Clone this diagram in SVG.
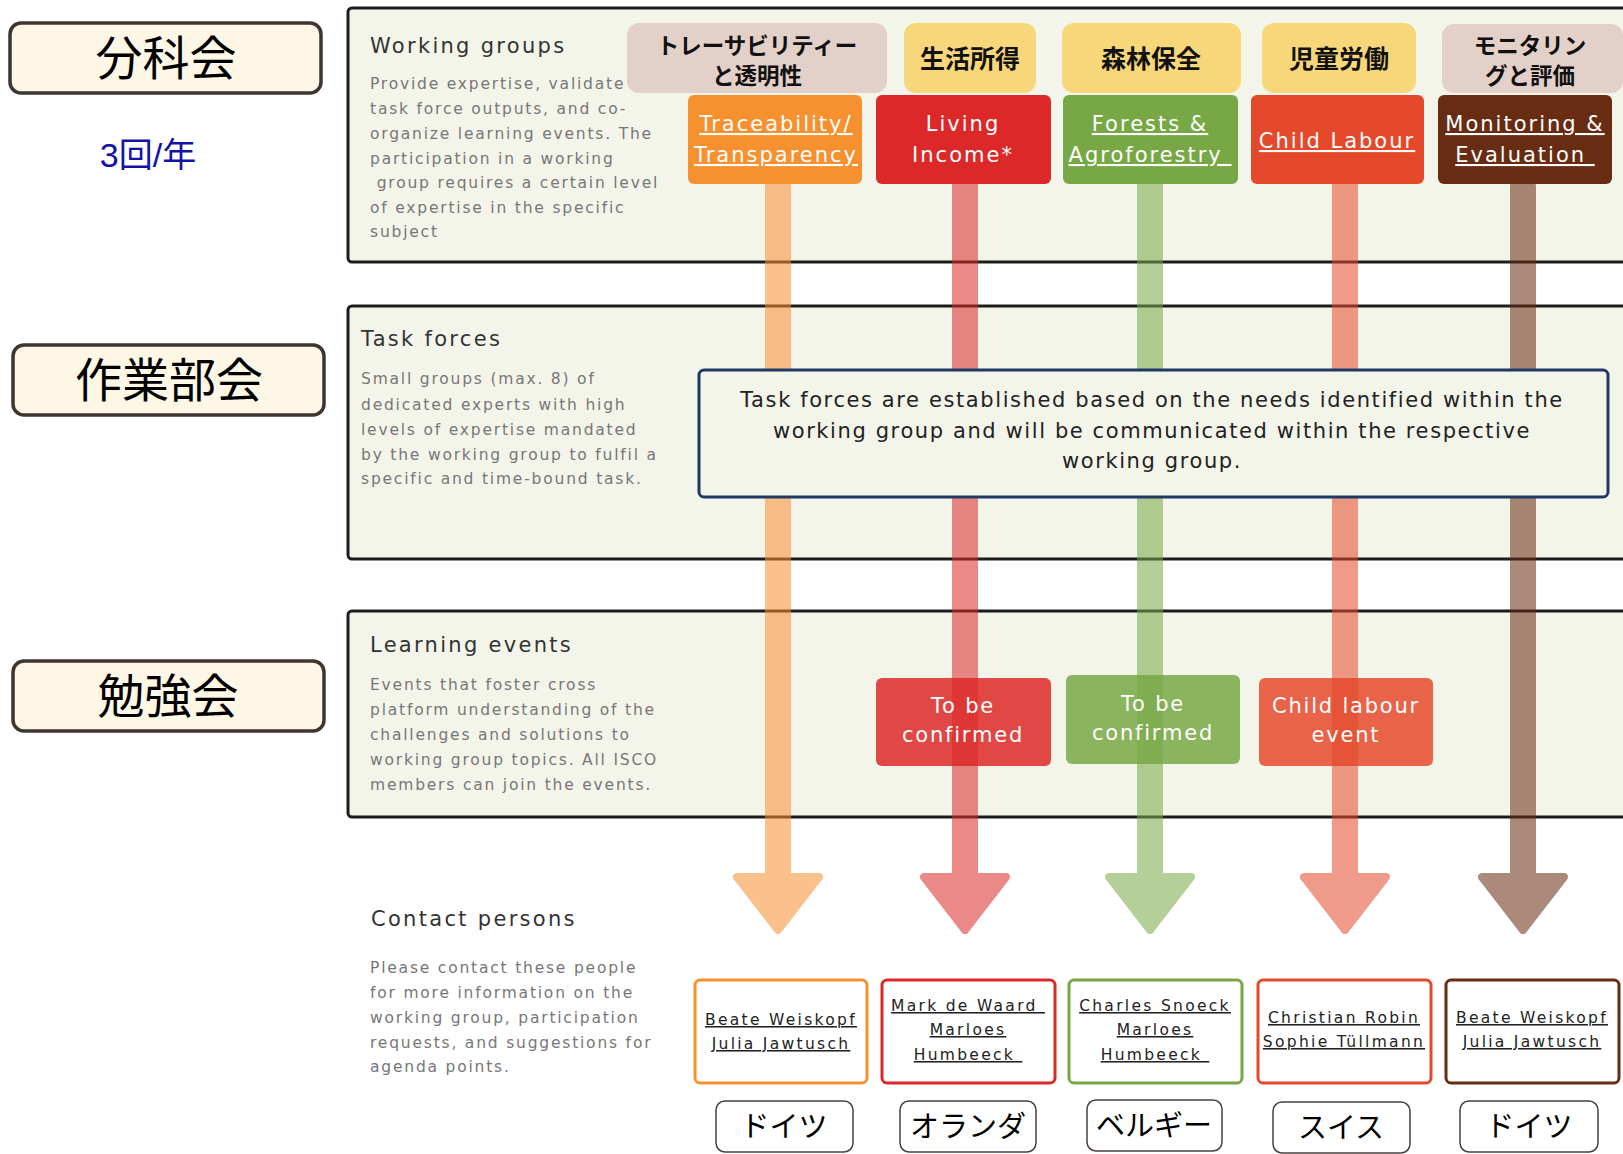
<svg xmlns="http://www.w3.org/2000/svg" width="1623" height="1154" viewBox="0 0 1623 1154">
<style>
.lbl{fill:#FFF7E5;stroke:#3F3530;stroke-width:3.5}
.lbltx{font-family:"Noto Sans CJK JP",sans-serif;font-size:47px;fill:#000;text-anchor:middle}
.panel{fill:#F4F5EA;stroke:#1c1c1c;stroke-width:3}
.ttl{font-family:"DejaVu Sans",sans-serif;font-size:21px;fill:#333;letter-spacing:2.3px}
.desc{font-family:"DejaVu Sans",sans-serif;font-size:15.5px;fill:#777;letter-spacing:1.8px}
.cat{font-family:"Noto Sans CJK JP",sans-serif;font-weight:bold;fill:#111;text-anchor:middle}
.topic{font-family:"DejaVu Sans",sans-serif;font-size:21px;fill:#fff;text-anchor:middle;letter-spacing:2px}
.u{text-decoration:underline}
.note{font-family:"DejaVu Sans",sans-serif;font-size:21px;fill:#222;text-anchor:middle;letter-spacing:1.6px}
.ev{font-family:"DejaVu Sans",sans-serif;font-size:21px;fill:#fff;text-anchor:middle;letter-spacing:1.8px}
.cbox{fill:#fff;stroke-width:3}
.name{font-family:"DejaVu Sans",sans-serif;font-size:15.5px;fill:#222;text-anchor:middle;letter-spacing:2.3px;text-decoration:underline}
.ctry{fill:#fff;stroke:#4a4040;stroke-width:1.5}
.ctrytx{font-family:"Noto Sans CJK JP",sans-serif;font-size:29px;fill:#000;text-anchor:middle}
.arrow{stroke-width:8;stroke-linejoin:round;opacity:0.55}
</style>

<!-- left labels -->
<g id="label-bunkakai">
<rect class="lbl" x="10" y="23" width="311" height="70" rx="11"/>
<text class="lbltx" x="166" y="75">分科会</text>
</g>
<g id="label-freq">
<text x="148" y="167" font-family="Liberation Sans, Noto Sans CJK JP, sans-serif" font-size="34" fill="#1212A8" text-anchor="middle">3回/年</text>
</g>
<g id="label-sagyobukai">
<rect class="lbl" x="13" y="345" width="311" height="70" rx="11"/>
<text class="lbltx" x="169" y="397">作業部会</text>
</g>
<g id="label-benkyokai">
<rect class="lbl" x="13" y="661" width="311" height="70" rx="11"/>
<text class="lbltx" x="168" y="713">勉強会</text>
</g>

<!-- panels -->
<g id="panel-working-groups">
<rect class="panel" x="348" y="8" width="1300" height="254" rx="4"/>
<text class="ttl" x="370" y="53">Working groups</text>
<text class="desc" x="370" y="89">Provide expertise, validate</text>
<text class="desc" x="370" y="114">task force outputs, and co-</text>
<text class="desc" x="370" y="139">organize learning events. The</text>
<text class="desc" x="370" y="164">participation in a working</text>
<text class="desc" x="370" y="188" xml:space="preserve"> group requires a certain level</text>
<text class="desc" x="370" y="213">of expertise in the specific</text>
<text class="desc" x="370" y="237">subject</text>
</g>
<g id="panel-task-forces">
<rect class="panel" x="348" y="306" width="1300" height="253" rx="4"/>
<text class="ttl" x="361" y="346">Task forces</text>
<text class="desc" x="361" y="384">Small groups (max. 8) of</text>
<text class="desc" x="361" y="410">dedicated experts with high</text>
<text class="desc" x="361" y="435">levels of expertise mandated</text>
<text class="desc" x="361" y="460">by the working group to fulfil a</text>
<text class="desc" x="361" y="484">specific and time-bound task.</text>
</g>
<g id="panel-learning-events">
<rect class="panel" x="348" y="611" width="1300" height="206" rx="4"/>
<text class="ttl" x="370" y="652">Learning events</text>
<text class="desc" x="370" y="690">Events that foster cross</text>
<text class="desc" x="370" y="715">platform understanding of the</text>
<text class="desc" x="370" y="740">challenges and solutions to</text>
<text class="desc" x="370" y="765">working group topics. All ISCO</text>
<text class="desc" x="370" y="790">members can join the events.</text>
</g>
<g id="contact-persons">
<text class="ttl" x="371" y="926">Contact persons</text>
<text class="desc" x="370" y="973">Please contact these people</text>
<text class="desc" x="370" y="998">for more information on the</text>
<text class="desc" x="370" y="1023">working group, participation</text>
<text class="desc" x="370" y="1048">requests, and suggestions for</text>
<text class="desc" x="370" y="1072">agenda points.</text>
</g>

<!-- connectors -->
<g id="connectors">
<path class="arrow" fill="#F7902F" stroke="#F7902F" d="M769,186 L787,186 L787,877 L819,877 L778,930 L737,877 L769,877 Z"/>
<path class="arrow" fill="#DC2828" stroke="#DC2828" d="M956,186 L974,186 L974,877 L1006,877 L965,930 L924,877 L956,877 Z"/>
<path class="arrow" fill="#77A845" stroke="#77A845" d="M1141,186 L1159,186 L1159,877 L1191,877 L1150,930 L1109,877 L1141,877 Z"/>
<path class="arrow" fill="#E5492B" stroke="#E5492B" d="M1336,186 L1354,186 L1354,877 L1386,877 L1345,930 L1304,877 L1336,877 Z"/>
<path class="arrow" fill="#672C12" stroke="#672C12" d="M1514,186 L1532,186 L1532,877 L1564,877 L1523,930 L1482,877 L1514,877 Z"/>
</g>

<!-- task forces note -->
<g id="task-forces-note">
<rect x="699" y="370" width="909" height="127" rx="5" fill="#F4F5EA" stroke="#1F3864" stroke-width="3"/>
<text class="note" x="1152" y="407">Task forces are established based on the needs identified within the</text>
<text class="note" x="1152" y="438">working group and will be communicated within the respective</text>
<text class="note" x="1152" y="468">working group.</text>
</g>

<!-- learning event boxes -->
<g id="event-living-income">
<rect x="876" y="678" width="175" height="88" rx="6" fill="#DC2828" opacity="0.85"/>
<text class="ev" x="963" y="713">To be</text>
<text class="ev" x="963" y="742">confirmed</text>
</g>
<g id="event-forests">
<rect x="1066" y="675" width="174" height="89" rx="6" fill="#77A845" opacity="0.85"/>
<text class="ev" x="1153" y="711">To be</text>
<text class="ev" x="1153" y="740">confirmed</text>
</g>
<g id="event-child-labour">
<rect x="1259" y="678" width="174" height="88" rx="6" fill="#E5492B" opacity="0.85"/>
<text class="ev" x="1346" y="713">Child labour</text>
<text class="ev" x="1346" y="742">event</text>
</g>

<!-- category labels (Japanese) -->
<g id="cat-traceability">
<rect x="627" y="23" width="260" height="70" rx="12" fill="#E3D0C8"/>
<text class="cat" x="757" y="54" font-size="22.5">トレーサビリティー</text>
<text class="cat" x="757" y="84" font-size="22.5">と透明性</text>
</g>
<g id="cat-living-income">
<rect x="904" y="23" width="132" height="70" rx="12" fill="#F8D77A"/>
<text class="cat" x="970" y="68" font-size="25">生活所得</text>
</g>
<g id="cat-forests">
<rect x="1062" y="23" width="179" height="70" rx="12" fill="#F8D77A"/>
<text class="cat" x="1151" y="68" font-size="25">森林保全</text>
</g>
<g id="cat-child-labour">
<rect x="1262" y="23" width="154" height="70" rx="12" fill="#F8D77A"/>
<text class="cat" x="1339" y="68" font-size="25">児童労働</text>
</g>
<g id="cat-monitoring">
<rect x="1442" y="24" width="181" height="69" rx="12" fill="#E3D0C8"/>
<text class="cat" x="1530" y="54" font-size="22.5">モニタリン</text>
<text class="cat" x="1530" y="84" font-size="22.5">グと評価</text>
</g>

<!-- topic boxes -->
<g id="topic-traceability">
<rect x="688" y="95" width="174" height="89" rx="6" fill="#F7902F"/>
<text class="topic u" x="776" y="131">Traceability/</text>
<text class="topic u" x="776" y="162">Transparency</text>
</g>
<g id="topic-living-income">
<rect x="876" y="95" width="175" height="89" rx="6" fill="#DC2828"/>
<text class="topic" x="963" y="131">Living</text>
<text class="topic" x="963" y="162">Income*</text>
</g>
<g id="topic-forests">
<rect x="1063" y="95" width="175" height="89" rx="6" fill="#77A845"/>
<text class="topic u" x="1150" y="131">Forests &amp;</text>
<text class="topic u" x="1150" y="162" xml:space="preserve">Agroforestry </text>
</g>
<g id="topic-child-labour">
<rect x="1251" y="95" width="173" height="89" rx="6" fill="#E5492B"/>
<text class="topic u" x="1337" y="148">Child Labour</text>
</g>
<g id="topic-monitoring">
<rect x="1438" y="95" width="174" height="89" rx="6" fill="#672C12"/>
<text class="topic u" x="1525" y="131">Monitoring &amp;</text>
<text class="topic u" x="1525" y="162" xml:space="preserve">Evaluation </text>
</g>

<!-- contact boxes -->
<g id="contact-traceability">
<rect class="cbox" x="695" y="980" width="172" height="103" rx="5" stroke="#F7902F"/>
<text class="name" x="781" y="1025">Beate Weiskopf</text>
<text class="name" x="781" y="1049">Julia Jawtusch</text>
</g>
<g id="contact-living-income">
<rect class="cbox" x="882" y="980" width="173" height="103" rx="5" stroke="#DC2828"/>
<text class="name" x="968" y="1011" xml:space="preserve">Mark de Waard </text>
<text class="name" x="968" y="1035">Marloes</text>
<text class="name" x="968" y="1060" xml:space="preserve">Humbeeck </text>
</g>
<g id="contact-forests">
<rect class="cbox" x="1069" y="980" width="173" height="103" rx="5" stroke="#77A845"/>
<text class="name" x="1155" y="1011">Charles Snoeck</text>
<text class="name" x="1155" y="1035">Marloes</text>
<text class="name" x="1155" y="1060" xml:space="preserve">Humbeeck </text>
</g>
<g id="contact-child-labour">
<rect class="cbox" x="1258" y="980" width="173" height="103" rx="5" stroke="#E5492B"/>
<text class="name" x="1344" y="1023">Christian Robin</text>
<text class="name" x="1344" y="1047">Sophie Tüllmann</text>
</g>
<g id="contact-monitoring">
<rect class="cbox" x="1446" y="980" width="173" height="103" rx="5" stroke="#672C12"/>
<text class="name" x="1532" y="1023">Beate Weiskopf</text>
<text class="name" x="1532" y="1047">Julia Jawtusch</text>
</g>

<!-- country labels -->
<g id="country-1">
<rect class="ctry" x="716" y="1101" width="137" height="51" rx="9"/>
<text class="ctrytx" x="784" y="1137">ドイツ</text>
</g>
<g id="country-2">
<rect class="ctry" x="900" y="1101" width="136" height="51" rx="9"/>
<text class="ctrytx" x="968" y="1137">オランダ</text>
</g>
<g id="country-3">
<rect class="ctry" x="1087" y="1100" width="135" height="51" rx="9"/>
<text class="ctrytx" x="1154" y="1136">ベルギー</text>
</g>
<g id="country-4">
<rect class="ctry" x="1273" y="1102" width="137" height="51" rx="9"/>
<text class="ctrytx" x="1341" y="1138">スイス</text>
</g>
<g id="country-5">
<rect class="ctry" x="1460" y="1101" width="138" height="51" rx="9"/>
<text class="ctrytx" x="1529" y="1137">ドイツ</text>
</g>
</svg>
